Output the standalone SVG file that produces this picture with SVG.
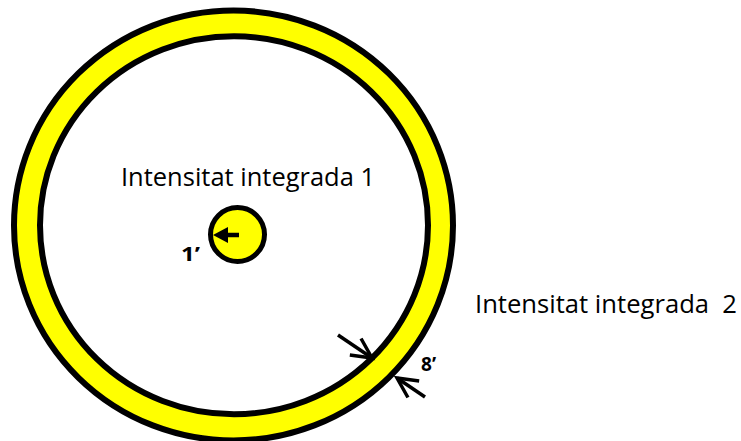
<svg xmlns="http://www.w3.org/2000/svg" width="741" height="441" viewBox="0 0 741 441">
<style>
.ring{fill:#FFFF00;stroke:#000;stroke-width:6}
.hole{fill:#fff;stroke:#000;stroke-width:6}
.lbl{font-family:"Open Sans","Liberation Sans",sans-serif;font-size:25px;fill:#000}
.num{font-family:"Open Sans","Liberation Sans",sans-serif;font-size:19px;font-weight:bold;fill:#000}
.arr{stroke:#000;stroke-width:3.5;fill:none}
</style>
<defs>
<marker id="open" markerUnits="userSpaceOnUse" markerWidth="30" markerHeight="30" refX="22" refY="11" orient="auto" overflow="visible">
<path d="M2,1 L22,11 L2,21" fill="none" stroke="#000" stroke-width="3.5"/>
</marker>
<marker id="solid" markerUnits="userSpaceOnUse" markerWidth="20" markerHeight="20" refX="15" refY="8" orient="auto" overflow="visible">
<path d="M0,0 L15,8 L0,16 Z" fill="#000"/>
</marker>
</defs>
<g id="outer-ring">
<ellipse class="ring" cx="233.5" cy="225.5" rx="219.5" ry="215"/>
<ellipse class="hole" cx="234" cy="225.3" rx="194" ry="189"/>
</g>
<g id="inner-spot">
<circle cx="237.5" cy="234.5" r="27" fill="#FFFF00" stroke="#000" stroke-width="5"/>
</g>
<g id="labels">
<text class="lbl" x="121" y="186" textLength="254" lengthAdjust="spacingAndGlyphs">Intensitat integrada 1</text>
<text class="lbl" x="475" y="313" textLength="262" lengthAdjust="spacingAndGlyphs" xml:space="preserve">Intensitat integrada  2</text>
<text class="num" x="181" y="261" textLength="19" lengthAdjust="spacingAndGlyphs">1’</text>
<text class="num" x="421" y="371" textLength="15" lengthAdjust="spacingAndGlyphs">8’</text>
</g>
<g id="connectors">
<line x1="239" y1="235" x2="228" y2="235" stroke="#000" stroke-width="4.5"/>
<line x1="230" y1="235" x2="213" y2="235" stroke="none" marker-end="url(#solid)"/>
<line class="arr" x1="338" y1="335" x2="372" y2="358" marker-end="url(#open)"/>
<line class="arr" x1="425" y1="397" x2="397" y2="378" marker-end="url(#open)"/>
</g>
</svg>
